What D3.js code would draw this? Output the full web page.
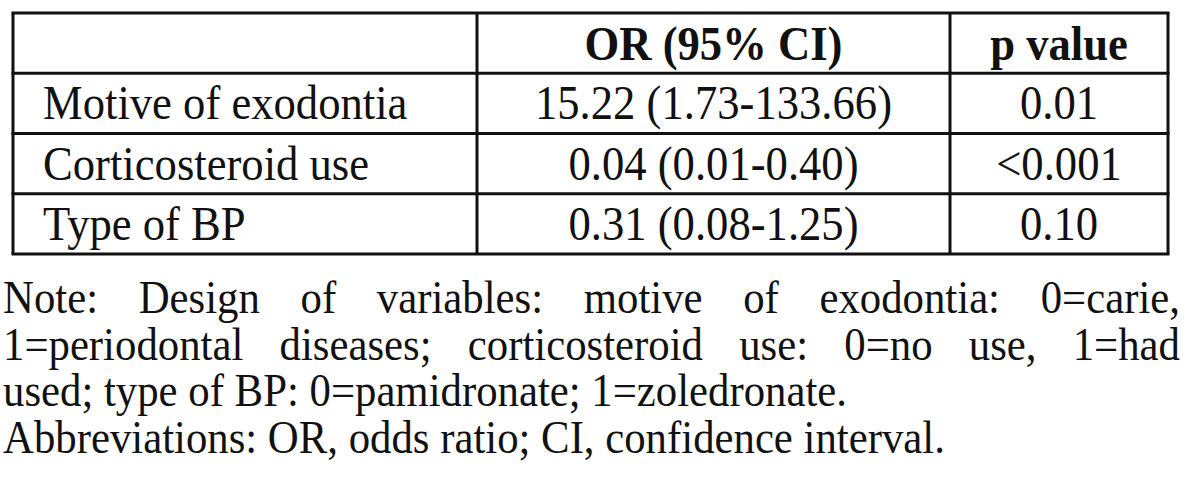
<!doctype html>
<html lang="en">
<head>
<meta charset="utf-8">
<title>OR table</title>
<script src="https://d3js.org/d3.v7.min.js"></script>
<style>
  body { margin: 0; background: #fff; }
  svg text { font-family: "Liberation Serif", "Times New Roman", serif; fill: #111; }
</style>
</head>
<body>
<svg id="chart" width="1200" height="494"></svg>
<script>
// table contents
var headers = ["", "OR (95% CI)", "p value"];
var rowLabels = ["Motive of exodontia", "Corticosteroid use", "Type of BP"];
var orValues = ["15.22 (1.73-133.66)", "0.04 (0.01-0.40)", "0.31 (0.08-1.25)"];
var pValues = ["0.01", "<0.001", "0.10"];
var noteLines = [
  "Note: Design of variables: motive of exodontia: 0=carie,",
  "1=periodontal diseases; corticosteroid use: 0=no use, 1=had",
  "used; type of BP: 0=pamidronate; 1=zoledronate.",
  "Abbreviations: OR, odds ratio; CI, confidence interval."
];
var justified = [true, true, false, false];

var svg = d3.select("#chart");
var sx = 0.93; // the source type is a bit condensed

var colEdges = [13, 477, 950, 1168];
var y = d3.scaleBand().domain(["head"].concat(rowLabels)).range([13, 254]).padding(0);

function put(sel, x, yy) {
  return sel.attr("transform", "translate(" + x + "," + yy + ") scale(" + sx + ",1)");
}

var g = svg.append("g");

// header
headers.forEach(function(d, i) {
  put(g.append("text"), (colEdges[i] + colEdges[i + 1]) / 2, y("head") + 47)
    .attr("text-anchor", "middle")
    .style("font-size", "48px")
    .style("font-weight", "bold")
    .text(d);
});

// body rows
var rows = rowLabels.map(function(d, i) { return [d, orValues[i], pValues[i]]; });
rows.forEach(function(r, ri) {
  r.forEach(function(d, i) {
    var x = i == 0 ? colEdges[0] + 30 : (colEdges[i] + colEdges[i + 1]) / 2;
    put(g.append("text"), x, y(rowLabels[ri]) + 46)
      .attr("text-anchor", i == 0 ? "start" : "middle")
      .style("font-size", "48px")
      .text(d);
  });
});

// grid lines
var hLines = y.domain().map(function(d) { return y(d); }).concat([y.range()[1]]);
g.selectAll("line.h")
  .data(hLines)
  .enter().append("line")
  .attr("x1", colEdges[0] - 1.5).attr("x2", colEdges[3] + 1.5)
  .attr("y1", function(d) { return d; }).attr("y2", function(d) { return d; })
  .attr("stroke", "#111").attr("stroke-width", 3);

g.selectAll("line.v")
  .data(colEdges)
  .enter().append("line")
  .attr("x1", function(d) { return d; }).attr("x2", function(d) { return d; })
  .attr("y1", 13).attr("y2", 254)
  .attr("stroke", "#111").attr("stroke-width", 3);

// note, first two lines justified
var noteLeft = 3, noteRight = 1180, noteSize = "46px";
noteLines.forEach(function(line, li) {
  var by = 313 + li * 46.5;
  if (!justified[li]) {
    put(svg.append("text"), noteLeft, by).style("font-size", noteSize).text(line);
    return;
  }
  var words = line.split(" ");
  var widths = words.map(function(w) {
    var t = svg.append("text").style("font-size", noteSize).text(w);
    var wd = t.node().getComputedTextLength() * sx;
    t.remove();
    return wd;
  });
  var gap = (noteRight - noteLeft - d3.sum(widths)) / (words.length - 1);
  var x = noteLeft;
  words.forEach(function(w, wi) {
    put(svg.append("text"), x, by).style("font-size", noteSize).text(w);
    x += widths[wi] + gap;
  });
});
</script>
</body>
</html>
